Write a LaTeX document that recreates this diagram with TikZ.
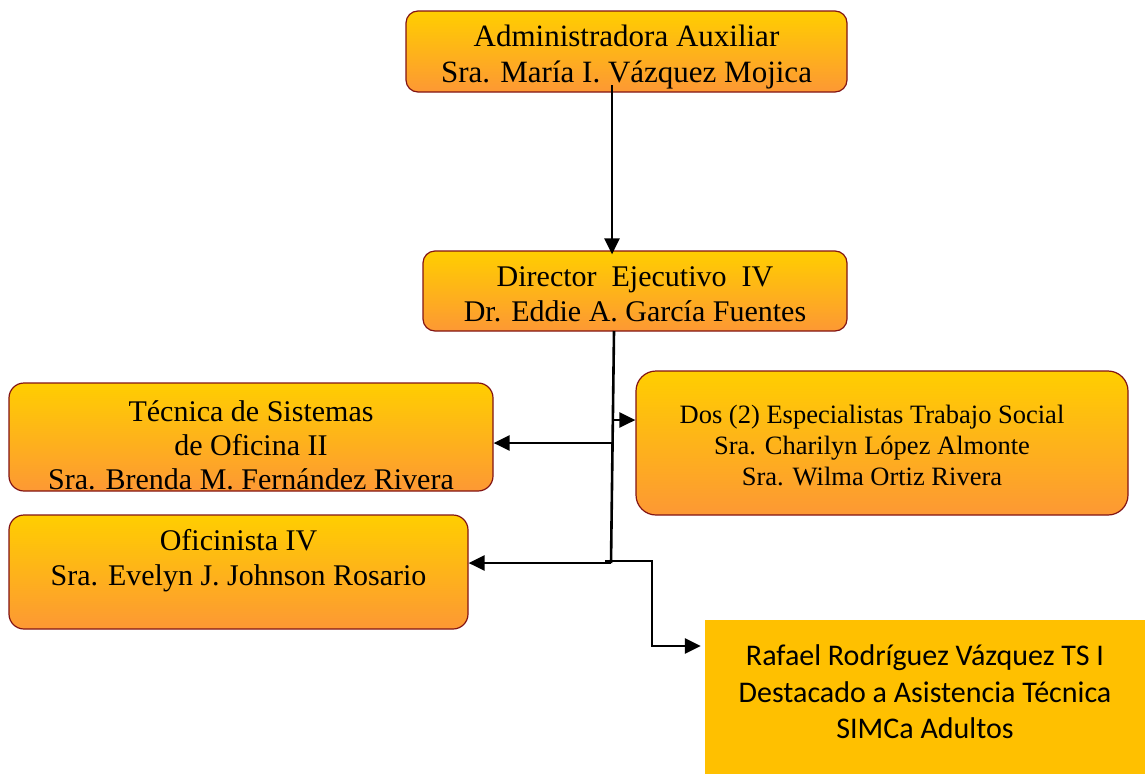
\documentclass[tikz,border=0pt]{standalone}
\usepackage{fontspec}
\setmainfont{Liberation Serif}
\newfontfamily\calib{Carlito}
\usetikzlibrary{arrows.meta}
\definecolor{gtop}{RGB}{255,206,0}
\definecolor{gbot}{RGB}{253,152,52}
\definecolor{bord}{RGB}{130,20,20}
\definecolor{rafc}{RGB}{255,192,0}
\tikzset{
  orgbox/.style={draw=bord, line width=1.2pt, top color=gtop, bottom color=gbot, align=center, inner sep=0pt},
  boxtext/.style={align=center, inner sep=0pt},
  arr/.style={line width=2.6pt, -{Triangle[length=16pt,width=15pt]}},
  ln/.style={line width=2.6pt},
}
\begin{document}
\begin{tikzpicture}[x=1pt,y=-1pt]
\useasboundingbox (0,0) rectangle (1145,774);
\node[orgbox, rounded corners=12pt, minimum width=441pt, minimum height=81pt] (admin) at (626.5,51.5) {};
\node[boxtext, font=\fontsize{31}{36}\selectfont] (admint) at (626.5,57) {Administradora Auxiliar\\Sra. María I. Vázquez Mojica};
\node[orgbox, rounded corners=12pt, minimum width=424pt, minimum height=80pt] (dir) at (635,291) {};
\node[boxtext, font=\fontsize{30}{35}\selectfont] (dirt) at (635,294) {Director\ \ Ejecutivo\ \ IV\\Dr. Eddie A. García Fuentes};
\node[orgbox, rounded corners=15pt, minimum width=484pt, minimum height=108pt] (tec) at (251,437) {};
\begin{scope}
\clip[rounded corners=15pt] (tec.south west) rectangle (tec.north east);
\node[boxtext, font=\fontsize{30}{34}\selectfont] (tect) at (251,445) {Técnica de Sistemas\\de Oficina II\\Sra. Brenda M. Fernández Rivera};
\end{scope}
\node[orgbox, rounded corners=20pt, minimum width=492pt, minimum height=144pt] (dos) at (882,443) {};
\node[boxtext, font=\fontsize{26.5}{31}\selectfont] (dost) at (872,445) {Dos (2) Especialistas Trabajo Social\\Sra. Charilyn López Almonte\\Sra. Wilma Ortiz Rivera};
\node[orgbox, rounded corners=15pt, minimum width=459pt, minimum height=114pt] (ofi) at (238.5,572) {};
\node[boxtext, font=\fontsize{30}{35}\selectfont] (ofit) at (238.5,561) {Oficinista IV\\Sra. Evelyn J. Johnson Rosario};
\node[fill=rafc, minimum width=440pt, minimum height=154pt, inner sep=0pt] (raf) at (925,697) {};
\node[boxtext, font=\calib\fontsize{30}{36.5}\selectfont] (raft) at (925,692) {Rafael Rodríguez Vázquez TS I\\Destacado a Asistencia Técnica\\SIMCa Adultos};
% connectors
\coordinate (a1) at (612,85);
\draw[arr] (a1) -- ([yshift=-4pt]a1 |- dir.north);
\coordinate (t1) at (614,331);
\coordinate (t2) at (611,563);
\draw[ln] (t1) -- (t2);
\coordinate (b1) at (613,420);
\draw[arr] (b1) -- (b1 -| dos.west);
\coordinate (b2) at (613,443);
\draw[arr] (b2) -- (b2 -| tec.east);
\draw[arr] (t2) -- (t2 -| ofi.east);
\coordinate (r0) at (605,561);
\coordinate (r1) at (652,561);
\coordinate (r2) at (652,646);
\coordinate (r3) at ([xshift=-4pt]raf.west |- r2);
\draw[arr] (r0) -- (r1) -- (r2) -- (r3);
\end{tikzpicture}
\end{document}
